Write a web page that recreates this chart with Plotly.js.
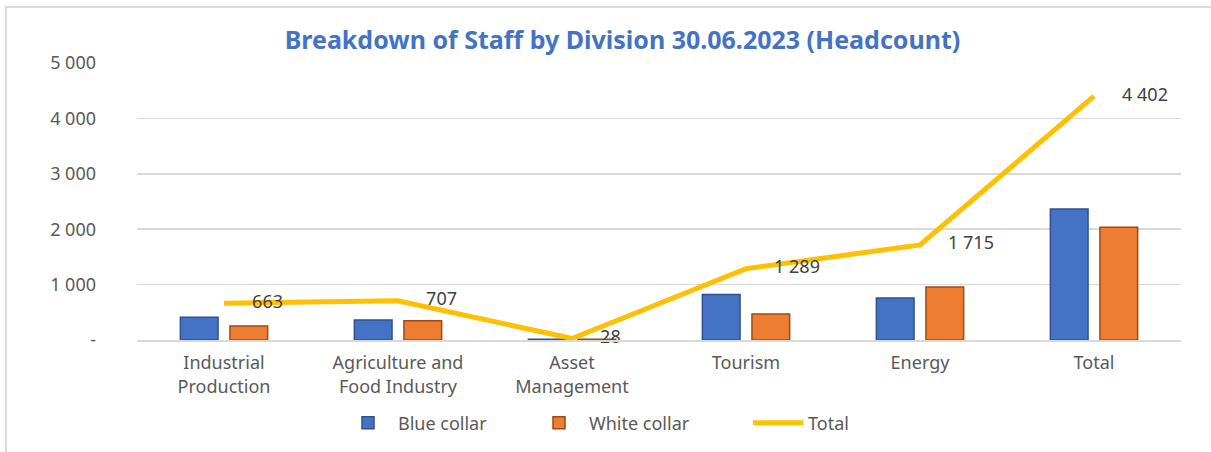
<!DOCTYPE html>
<html>
<head>
<meta charset="utf-8">
<script src="https://cdn.plot.ly/plotly-3.0.1.min.js"></script>
<style>
  html, body { margin: 0; padding: 0; background: #fff; overflow: hidden; }
  #wrap { position: relative; width: 1211px; height: 452px; }
  #chart { position: absolute; left: 0; top: 0; width: 1211px; height: 452px; }
  #frame { position: absolute; left: 5px; top: 6px; width: 1215px; height: 455px;
           border: 2px solid #d9d9d9; box-sizing: border-box; pointer-events: none; }
</style>
</head>
<body>
<div id="wrap">
  <div id="chart"></div>
  <div id="frame"></div>
</div>
<script>
const categories = ["Industrial<br>Production", "Agriculture and<br>Food Industry", "Asset<br>Management", "Tourism", "Energy", "Total"];
const blueCollar = [410, 360, 15, 820, 760, 2365];
const whiteCollar = [253, 347, 13, 469, 955, 2037];
const totals = [663, 707, 28, 1289, 1715, 4402];
const yTickVals = [0, 1000, 2000, 3000, 4000, 5000];
const yTickText = ["-", "1 000", "2 000", "3 000", "4 000", "5 000"];

function fmt(v) {
  return String(v).replace(/\B(?=(\d{3})+(?!\d))/g, " ");
}

const font = "Noto Sans, DejaVu Sans, sans-serif";

const traces = [
  {
    type: "bar", name: "Blue collar", x: categories, y: blueCollar,
    marker: { color: "#4472C4", line: { color: "#2F528F", width: 1.5 } },
    legend: "legend",
    hoverinfo: "skip"
  },
  {
    type: "bar", name: "White collar", x: categories, y: whiteCollar,
    marker: { color: "#ED7D31", line: { color: "#9E4A14", width: 1.5 } },
    legend: "legend2",
    hoverinfo: "skip"
  },
  {
    type: "scatter", mode: "lines+text", name: "Total", x: categories, y: totals,
    line: { color: "#FFC000", width: 5 },
    text: totals.map(v => "\u00a0\u00a0\u00a0\u00a0\u00a0\u00a0" + fmt(v)),
    textposition: "middle right",
    textfont: { family: font, size: 18, color: "#404040" },
    cliponaxis: false,
    legend: "legend3",
    hoverinfo: "skip"
  }
];

function leg(xpx) {
  return {
    orientation: "h",
    x: xpx / 1211, xref: "container", xanchor: "left",
    y: 1 - 423 / 452, yref: "container", yanchor: "middle",
    font: { family: font, size: 18, color: "#595959" },
    itemwidth: 50,
    bgcolor: "rgba(0,0,0,0)"
  };
}

const layout = {
  width: 1211, height: 452,
  paper_bgcolor: "#ffffff", plot_bgcolor: "#ffffff",
  margin: { l: 137, r: 30, t: 63, b: 112 },
  font: { family: font, size: 18, color: "#595959" },
  title: {
    text: "<b>Breakdown of Staff by Division 30.06.2023 (Headcount)</b>",
    font: { family: font, size: 25, color: "#4472C4" },
    x: 0.514, xref: "container", xanchor: "center",
    y: 1 - 40 / 452, yref: "container", yanchor: "middle"
  },
  barmode: "group",
  bargap: 0.43,
  bargroupgap: 0.24,
  xaxis: {
    type: "category",
    showline: true, linecolor: "#d9d9d9", linewidth: 1.5,
    showgrid: false, ticks: "",
    ticklabelstandoff: 6,
    tickfont: { family: font, size: 18, color: "#595959" },
    fixedrange: true
  },
  yaxis: {
    range: [0, 5000],
    tickvals: yTickVals, ticktext: yTickText,
    showgrid: true, gridcolor: "#d9d9d9", gridwidth: 1.5,
    zeroline: false, showline: false, ticks: "",
    ticklabelstandoff: 40,
    tickfont: { family: font, size: 18, color: "#595959" },
    fixedrange: true
  },
  showlegend: true,
  legend: leg(338),
  legend2: leg(529),
  legend3: leg(748)
};

Plotly.newPlot("chart", traces, layout, { displayModeBar: false, staticPlot: true });
</script>
</body>
</html>
